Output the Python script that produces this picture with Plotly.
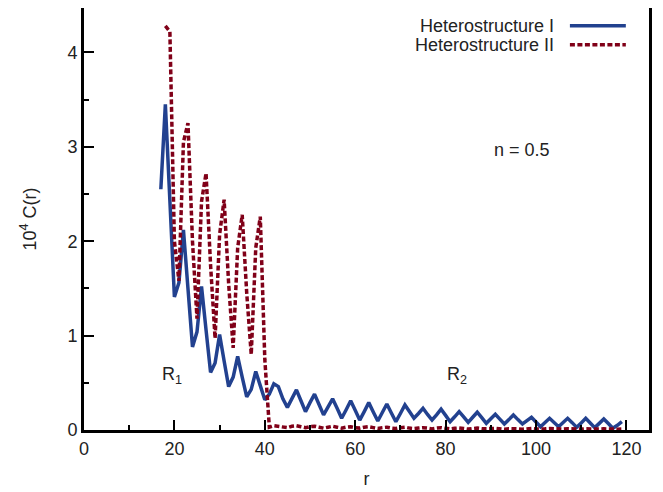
import plotly.graph_objects as go

# ---- data ----
r_het1 = list(range(17, 120))
c_het1 = [2.55, 3.45, 2.43, 1.41, 1.56, 2.12, 1.50, 0.88, 1.04, 1.52,
          1.06, 0.61, 0.71, 1.01, 0.73, 0.46, 0.56, 0.78, 0.56, 0.35,
          0.43, 0.62, 0.47, 0.32, 0.38, 0.49, 0.46, 0.33, 0.24, 0.33,
          0.425, 0.31, 0.195, 0.29, 0.38, 0.27, 0.16, 0.245, 0.33, 0.23,
          0.125, 0.215, 0.31, 0.21, 0.105, 0.195, 0.29, 0.19, 0.095, 0.185,
          0.275, 0.18, 0.088, 0.175, 0.265, 0.195, 0.124, 0.175, 0.23, 0.165,
          0.106, 0.16, 0.22, 0.155, 0.088, 0.14, 0.195, 0.14, 0.081, 0.135,
          0.188, 0.13, 0.071, 0.12, 0.167, 0.115, 0.064, 0.11, 0.159, 0.11,
          0.064, 0.10, 0.135, 0.085, 0.035, 0.08, 0.124, 0.08, 0.035, 0.08,
          0.124, 0.078, 0.028, 0.075, 0.124, 0.075, 0.025, 0.07, 0.117, 0.068,
          0.018, 0.05, 0.088]

r_het2 = list(range(18, 120))
c_het2 = [4.28, 4.22, 2.0, 1.58, 3.05, 3.25, 2.0, 1.18, 2.42, 2.72,
          1.75, 0.97, 2.07, 2.44, 1.55, 0.87, 1.93, 2.28, 1.45, 0.80,
          1.93, 2.26, 0.75,
          0.03, 0.045, 0.04, 0.03, 0.025, 0.04, 0.045, 0.035, 0.025, 0.035,
          0.04, 0.03, 0.02, 0.03, 0.04, 0.03, 0.02, 0.03, 0.035, 0.025,
          0.02, 0.03, 0.035, 0.025, 0.015, 0.025, 0.03, 0.02, 0.015, 0.025,
          0.03, 0.02, 0.015, 0.02, 0.025, 0.02, 0.012, 0.02, 0.025, 0.018,
          0.012, 0.018, 0.022, 0.016, 0.01, 0.016, 0.02, 0.014, 0.01, 0.015,
          0.018, 0.013, 0.009, 0.014, 0.017, 0.012, 0.008, 0.013, 0.016, 0.011,
          0.008, 0.012, 0.015, 0.011, 0.007, 0.011, 0.014, 0.01, 0.007, 0.01,
          0.013, 0.009, 0.006, 0.01, 0.012, 0.009, 0.006, 0.009, 0.011]

series_names = ["Heterostructure I", "Heterostructure II"]
x_ticks = [0, 20, 40, 60, 80, 100, 120]
y_ticks = [0, 1, 2, 3, 4]

BLUE = "#22418f"
RED = "#800018"
FONT = "Liberation Sans, Arial, Helvetica, sans-serif"
TXT = "#222"

fig = go.Figure()
fig.add_trace(go.Scatter(x=r_het1, y=c_het1, mode="lines", name=series_names[0],
                         line=dict(color=BLUE, width=3.5), showlegend=False))
fig.add_trace(go.Scatter(x=r_het2, y=c_het2, mode="lines", name=series_names[1],
                         line=dict(color=RED, width=3.5, dash="5px,2.5px"),
                         showlegend=False))

axis_common = dict(showline=True, linecolor="black", linewidth=3, mirror=True,
                   ticks="inside", ticklen=10, tickwidth=2, tickcolor="black",
                   showgrid=False, zeroline=False, automargin=False,
                   tickfont=dict(family=FONT, size=18, color=TXT))

fig.update_xaxes(range=[0, 125], tickvals=x_ticks,
                 minor=dict(ticks="inside", ticklen=5, tickwidth=2, dtick=10, tick0=0,
                            tickcolor="black", showgrid=False),
                 title=dict(text="r", font=dict(family=FONT, size=18, color=TXT),
                            standoff=15),
                 **axis_common)
fig.update_yaxes(range=[0, 4.47], tickvals=y_ticks,
                 minor=dict(ticks="inside", ticklen=5, tickwidth=2, dtick=0.5, tick0=0,
                            tickcolor="black", showgrid=False),
                 title=dict(text="10<sup>4</sup> C(r)",
                            font=dict(family=FONT, size=18, color=TXT), standoff=27),
                 **axis_common)

# manual legend (text left of sample, as in the reference)
legend_y = [0.958, 0.913]
for name, yy, col, dash in zip(series_names, legend_y, [BLUE, RED], ["solid", "5px,2.5px"]):
    fig.add_annotation(x=0.835, y=yy, xref="paper", yref="paper", text=name,
                       showarrow=False, xanchor="right", yanchor="middle",
                       font=dict(family=FONT, size=18, color=TXT))
    fig.add_shape(type="line", xref="paper", yref="paper", x0=0.860, x1=0.959,
                  y0=yy, y1=yy, line=dict(color=col, width=3.5, dash=dash))

fig.add_annotation(x=19.5, y=0.58, text="R<sub>1</sub>", showarrow=False,
                   font=dict(family=FONT, size=18, color=TXT))
fig.add_annotation(x=82.5, y=0.58, text="R<sub>2</sub>", showarrow=False,
                   font=dict(family=FONT, size=18, color=TXT))
fig.add_annotation(x=96.9, y=2.97, text="n = 0.5", showarrow=False,
                   font=dict(family=FONT, size=18, color=TXT))

fig.update_layout(width=655, height=484,
                  margin=dict(l=76, r=14, t=0, b=62),
                  plot_bgcolor="white", paper_bgcolor="white",
                  font=dict(family=FONT, size=18, color=TXT))

fig.write_html("out.html")
